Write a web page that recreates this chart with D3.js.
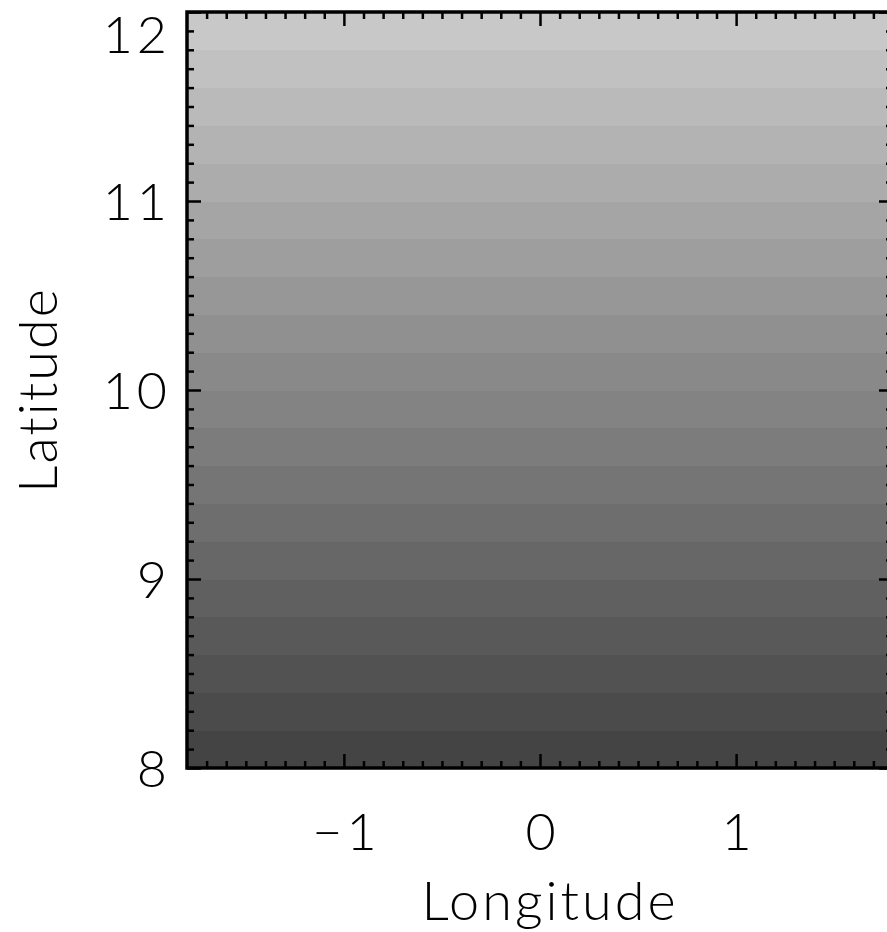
<!DOCTYPE html>
<html>
<head>
<meta charset="utf-8">
<script src="https://cdn.jsdelivr.net/npm/d3@7"></script>
<style>
  html, body { margin: 0; padding: 0; background: #fff; }
  svg { display: block; }
  text { font-family: Lato, "DejaVu Sans", sans-serif; font-weight: 300; fill: #000; }
</style>
</head>
<body>
<svg id="chart" width="887" height="932"></svg>
<script>
// ---- data ----
const bandStart = [8.0, 8.2, 8.4, 8.6, 8.8, 9.0, 9.2, 9.4, 9.6, 9.8,
                   10.0, 10.2, 10.4, 10.6, 10.8, 11.0, 11.2, 11.4, 11.6, 11.8];
const bandValue = [8.1, 8.3, 8.5, 8.7, 8.9, 9.1, 9.3, 9.5, 9.7, 9.9,
                   10.1, 10.3, 10.5, 10.7, 10.9, 11.1, 11.3, 11.5, 11.7, 11.9];
const bandHeight = 0.2;
const lonRange = [-1.8, 1.8];
const latRange = [8, 12];
const xTicks = [-1, 0, 1];
const xTickLabels = ["\u22121", "0", "1"];
const yTicks = [8, 9, 10, 11, 12];
const yTickLabels = ["8", "9", "10", "11", "12"];
const xLabel = "Longitude";
const yLabel = "Latitude";

// ---- layout ----
const svg = d3.select("#chart");
const x = d3.scaleLinear().domain(lonRange).range([187, 893]);
const y = d3.scaleLinear().domain(latRange).range([768, 12]);
const color = d3.scaleLinear().domain([8.1, 11.9]).range(["#444444", "#c8c8c8"]);

// bands
svg.append("g").selectAll("rect")
  .data(bandStart.map((s, i) => ({ s, v: bandValue[i] })))
  .join("rect")
  .attr("x", x(lonRange[0]))
  .attr("width", x(lonRange[1]) - x(lonRange[0]))
  .attr("y", d => y(d.s + bandHeight))
  .attr("height", d => y(d.s) - y(d.s + bandHeight) + 0.5)
  .attr("fill", d => color(d.v))
  .attr("shape-rendering", "crispEdges");

const minorX = d3.range(-17, 18).map(k => k / 10).filter(v => Math.abs(v - Math.round(v)) > 1e-6);
const minorY = d3.range(80, 121).map(k => k / 10).filter(v => Math.abs(v - Math.round(v)) > 1e-6);

function styleAxis(g) {
  g.select(".domain").remove();
  g.selectAll(".tick line").attr("stroke", "#000").attr("stroke-width", 2.5);
  g.selectAll(".tick text").style("font-size", "52px").style("letter-spacing", "4px");
}

// bottom
svg.append("g").attr("transform", `translate(0,${y(8)})`)
  .call(d3.axisBottom(x).tickValues(minorX).tickSize(-7).tickFormat(""))
  .call(styleAxis);
svg.append("g").attr("transform", `translate(0,${y(8)})`)
  .call(d3.axisBottom(x).tickValues(xTicks).tickSize(-14)
        .tickFormat((d, i) => xTickLabels[i]))
  .call(styleAxis)
  .call(g => g.selectAll(".tick text").attr("dy", "0").attr("y", 82).attr("dx", "2"));

// top
svg.append("g").attr("transform", `translate(0,${y(12)})`)
  .call(d3.axisTop(x).tickValues(minorX).tickSize(-7).tickFormat(""))
  .call(styleAxis);
svg.append("g").attr("transform", `translate(0,${y(12)})`)
  .call(d3.axisTop(x).tickValues(xTicks).tickSize(-14).tickFormat(""))
  .call(styleAxis);

// left
svg.append("g").attr("transform", `translate(${x(-1.8)},0)`)
  .call(d3.axisLeft(y).tickValues(minorY).tickSize(-7).tickFormat(""))
  .call(styleAxis);
svg.append("g").attr("transform", `translate(${x(-1.8)},0)`)
  .call(d3.axisLeft(y).tickValues(yTicks).tickSize(-14).tickPadding(16)
        .tickFormat((d, i) => yTickLabels[i]))
  .call(styleAxis)
  .call(g => g.selectAll(".tick text").attr("dy", "0.36em"))
  .call(g => g.selectAll(".tick").filter(d => d === 12).select("text").attr("dy", "0.78em"));

// right
svg.append("g").attr("transform", `translate(${x(1.8)},0)`)
  .call(d3.axisRight(y).tickValues(minorY).tickSize(-7).tickFormat(""))
  .call(styleAxis);
svg.append("g").attr("transform", `translate(${x(1.8)},0)`)
  .call(d3.axisRight(y).tickValues(yTicks).tickSize(-14).tickFormat(""))
  .call(styleAxis);

// frame
svg.append("rect")
  .attr("x", x(-1.8)).attr("y", y(12))
  .attr("width", x(1.8) - x(-1.8)).attr("height", y(8) - y(12))
  .attr("fill", "none").attr("stroke", "#000").attr("stroke-width", 3.5);

// axis titles
svg.append("text")
  .attr("x", x(0) + 10).attr("y", 920)
  .attr("text-anchor", "middle")
  .style("font-size", "54px")
  .style("letter-spacing", "3px")
  .text(xLabel);
svg.append("text")
  .attr("transform", `translate(57,${y(10)}) rotate(-90)`)
  .attr("text-anchor", "middle")
  .style("font-size", "54px")
  .style("letter-spacing", "2px")
  .text(yLabel);
</script>
</body>
</html>
